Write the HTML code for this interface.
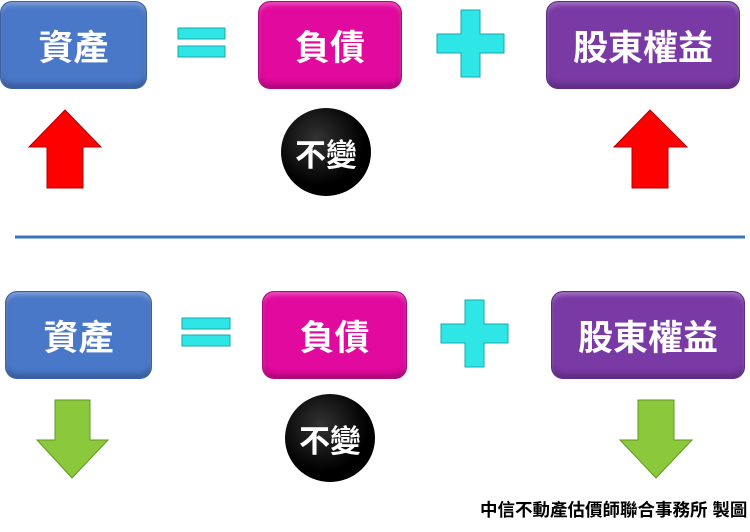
<!DOCTYPE html>
<html><head><meta charset="utf-8"><style>
body{margin:0;width:750px;height:532px;background:#fff;position:relative;overflow:hidden;font-family:"Liberation Sans","Noto Sans CJK TC",sans-serif}
.b{position:absolute;border-radius:12px;color:#fff;font-weight:bold;font-size:35px;display:flex;align-items:center;justify-content:center;box-shadow:inset 0 -4px 6px rgba(0,0,0,.25),inset 0 3px 4px rgba(255,255,255,.3)}
.blue{background:#4a78c9;border:1px solid #3a62a8}
.pink{background:#e2099f;border:1px solid #b00880}
.purp{background:#7a3aa6;border:1px solid #5e2a85}
.c{position:absolute;width:90px;height:88px;border-radius:50%;background:radial-gradient(circle at 40% 35%,#333,#000 60%);color:#fff;font-weight:bold;font-size:31px;display:flex;align-items:center;justify-content:center}
svg{position:absolute;left:0;top:0}
</style></head><body>
<div class="b blue" style="left:0;top:1px;width:145px;height:86px">資產</div>
<div class="b pink" style="left:258px;top:1px;width:142px;height:86px">負債</div>
<div class="b purp" style="left:546px;top:1px;width:192px;height:86px">股東權益</div>
<div class="c" style="left:281px;top:108px">不變</div>
<div class="b blue" style="left:5px;top:291px;width:145px;height:86px">資產</div>
<div class="b pink" style="left:262px;top:291px;width:143px;height:86px">負債</div>
<div class="b purp" style="left:551px;top:291px;width:192px;height:86px">股東權益</div>
<div class="c" style="left:285px;top:394px">不變</div>
<svg width="750" height="532">
<g fill="#2ee6e6" stroke="#1aa8a8" stroke-width="1">
<rect x="178" y="28" width="47" height="11"/><rect x="178" y="46" width="47" height="11"/>
<rect x="182" y="318" width="48" height="11"/><rect x="182" y="335" width="48" height="11"/>
<path d="M461 10h19v24h24v19h-24v24h-19v-24h-24v-19h24z"/>
<path d="M465 300h19v24h24v19h-24v24h-19v-24h-24v-19h24z"/>
</g>
<g fill="#ff0000" stroke="#b00000">
<path d="M65 110L101 147H83V188H47V147H29Z"/>
<path d="M650 110L687 147H668V188H632V147H614Z"/>
</g>
<g fill="#8cc83c" stroke="#5a9a20">
<path d="M55 400H90V440H108L72 478L37 440H55Z"/>
<path d="M638 400H674V440H692L656 478L620 440H638Z"/>
</g>
<line x1="15" y1="237" x2="745" y2="237" stroke="#3a74b8" stroke-width="3"/>
</svg>
<div style="position:absolute;left:480px;top:497px;font-size:17.5px;font-weight:bold;color:#000;white-space:nowrap">中信不動產估價師聯合事務所 製圖</div>
</body></html>
